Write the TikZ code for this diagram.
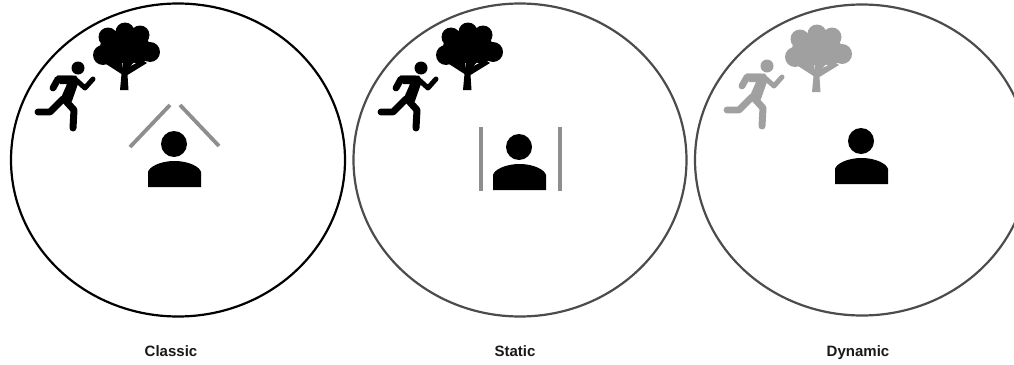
\documentclass[tikz,border=0pt]{standalone}
\usepackage{fontspec}
\setmainfont{Liberation Sans}
\tikzset{
  world/.style={draw=#1,line width=2.2pt,fill=none},
  wall/.style={draw=wallgray,line width=3.8pt},
  caption/.style={font=\fontsize{15}{18}\selectfont\bfseries,text=black!90,inner sep=0pt,anchor=base},
  pics/runner/.style={code={
    \fill[#1] (78,68) circle (6.5);
    \draw[#1,line width=6.8pt,line cap=round,line join=round]
      (53,88) -- (58,79) -- (72,79);
    \fill[#1] (57,75.5) -- (76,75.5) -- (79,81) -- (72,101) -- (68,106) -- (60,100) -- (67,84) -- (60,84) -- cycle;
    \draw[#1,line width=7pt,line cap=round,line join=round]
      (64,99) -- (74,110) -- (73,128);
    \draw[#1,line width=6.8pt,line cap=round,line join=round]
      (63,99) -- (50,112) -- (38,112);
    \draw[#1,line width=5pt,line cap=round,line join=round]
      (75,79) -- (85,88) -- (93,79);
  }},
  pics/tree/.style={code={
    \fill[#1] (108,37) circle (9.5) (125,32) circle (9.5) (140,35) circle (9.5)
      (150,52) circle (10) (103,55) circle (10) (125,47) ellipse [x radius=25,y radius=16]
      (113,52) circle (12) (138,52) circle (11.5) (125,55) ellipse [x radius=15,y radius=8];
    \fill[#1] (120,90) -- (121.5,74) -- (106,64) -- (112,60) -- (123,68) -- (123,56) -- (127,56) -- (127,68) -- (142,60) -- (147,63) -- (127.5,75) -- (128.5,90) -- cycle;
    \fill[#1] (112,60) -- (122,60) -- (123,70) -- cycle (127,60) -- (136,60) -- (127,70) -- cycle;
  }},
  pics/person/.style={code={
    \fill[black] (174,144) circle (13);
    \fill[black] (148,187) -- (148,172) .. controls (149,167) and (160,161) .. (174.5,161)
      .. controls (189,161) and (200,167) .. (201,172) -- (201,187) -- cycle;
  }}
}
\definecolor{wallgray}{HTML}{8E8E8E}
\definecolor{fadegray}{HTML}{A0A0A0}
\begin{document}
\begin{tikzpicture}[x=1pt,y=-1pt]
\useasboundingbox (0,0) rectangle (1014,364);
\fill[white] (0,0) rectangle (1014,364);
% circles
\draw[world=black] (178,160) ellipse [x radius=167,y radius=156.5];
\draw[world=black!70] (520,160) ellipse [x radius=166.5,y radius=156.5];
\draw[world=black!70] (862,160) ellipse [x radius=167,y radius=155.5];
% classic
\pic at (0,0) {tree=black};
\pic at (0,0) {runner=black};
\pic at (0,0) {person};
\draw[wall] (130,147) -- (170,105);
\draw[wall] (180,105) -- (219,146);
% static
\pic at (343,0) {tree=black};
\pic at (343,0) {runner=black};
\pic at (345,3) {person};
\draw[wall] (481,127) -- (481,191);
\draw[wall] (560,127) -- (560,191);
% dynamic
\pic at (692,2) {tree=fadegray};
\pic at (689,-2) {runner=fadegray};
\pic at (687,-3) {person};
% captions
\node[caption] (classic) at (171,356) {Classic};
\node[caption] (static) at (515,356) {Static};
\node[caption] (dynamic) at (858,356) {Dynamic};
\end{tikzpicture}
\end{document}
